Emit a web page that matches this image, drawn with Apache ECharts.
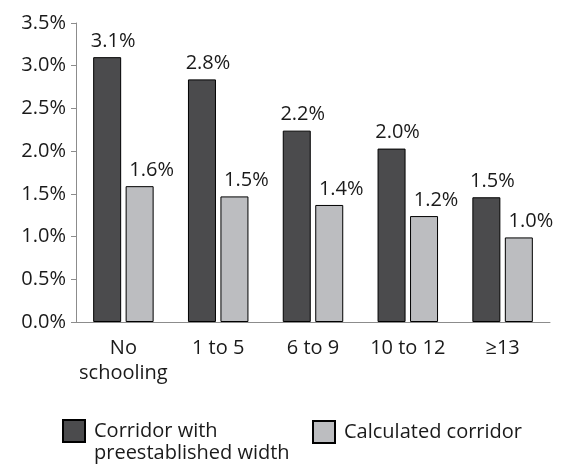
<!DOCTYPE html>
<html>
<head>
<meta charset="utf-8">
<script src="https://cdn.jsdelivr.net/npm/echarts@6/dist/echarts.min.js"></script>
<style>
  html, body { margin: 0; padding: 0; background: #fff; }
  #chart { width: 561px; height: 464px; }
</style>
</head>
<body>
<div id="chart"></div>
<script type="text/javascript">
    var categories = ['No\nschooling', '1 to 5', '6 to 9', '10 to 12', '≥13'];
    var preestablished = [3.10, 2.84, 2.24, 2.03, 1.46];
    var calculated = [1.59, 1.47, 1.37, 1.24, 0.99];
    var seriesNames = ['Corridor with\npreestablished width', 'Calculated corridor'];

    var fontFamily = '"Open Sans", sans-serif';
    var fontSize = 20;
    var textColor = '#1a1a1a';
    var axisColor = '#8c8c8c';

    var chart = echarts.init(document.getElementById('chart'));

    function pct(p) {
        return p.value.toFixed(1) + '%';
    }

    var legendText = {
        color: textColor,
        fontSize: fontSize,
        lineHeight: 22,
        fontFamily: fontFamily,
        padding: [0, 0, 0, 4]
    };

    var option = {
        animation: false,
        textStyle: { fontFamily: fontFamily },
        grid: {
            left: 76,
            right: 11,
            top: 23,
            bottom: 142
        },
        legend: [{
            // leading empty line keeps the square level with the first text line
            left: 62,
            top: 398,
            icon: 'rect',
            itemWidth: 22,
            itemHeight: 22,
            padding: 0,
            data: [seriesNames[0]],
            formatter: function (name) { return '\n' + name; },
            textStyle: legendText
        }, {
            left: 312,
            top: 420,
            icon: 'rect',
            itemWidth: 22,
            itemHeight: 22,
            padding: 0,
            data: [seriesNames[1]],
            textStyle: legendText
        }],
        xAxis: {
            type: 'category',
            data: categories,
            axisLine: { lineStyle: { color: axisColor, width: 1 } },
            axisTick: { length: 5, lineStyle: { color: axisColor } },
            axisLabel: {
                interval: 0,
                color: textColor,
                fontSize: fontSize,
                lineHeight: 25,
                margin: 14,
                fontFamily: fontFamily
            }
        },
        yAxis: {
            type: 'value',
            min: 0,
            max: 3.5,
            interval: 0.5,
            splitLine: { show: false },
            axisLine: { show: true, lineStyle: { color: axisColor, width: 1 } },
            axisTick: { show: true, length: 5, lineStyle: { color: axisColor } },
            axisLabel: {
                color: textColor,
                fontSize: fontSize,
                margin: 10,
                fontFamily: fontFamily,
                formatter: function (v) { return v.toFixed(1) + '%'; }
            }
        },
        series: [{
            name: seriesNames[0],
            type: 'bar',
            data: preestablished,
            barWidth: 28,
            barGap: '16%',
            itemStyle: { color: '#4b4b4d', borderColor: '#000', borderWidth: 1 },
            label: {
                show: true,
                position: 'top',
                distance: 6,
                offset: [6, 0],
                color: textColor,
                fontSize: fontSize,
                fontFamily: fontFamily,
                formatter: pct
            }
        }, {
            name: seriesNames[1],
            type: 'bar',
            data: calculated,
            barWidth: 28,
            itemStyle: { color: '#bcbdc0', borderColor: '#000', borderWidth: 1 },
            label: {
                show: true,
                position: 'top',
                distance: 6,
                offset: [12, 0],
                color: textColor,
                fontSize: fontSize,
                fontFamily: fontFamily,
                formatter: pct
            }
        }]
    };
    chart.setOption(option);
</script>
</body>
</html>
